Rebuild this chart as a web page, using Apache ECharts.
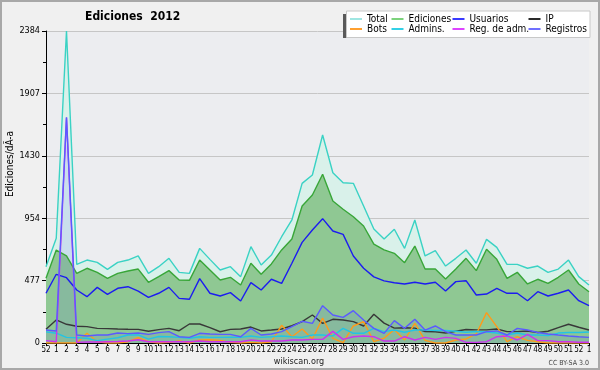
<!DOCTYPE html>
<html><head><meta charset="utf-8">
<script src="https://cdn.jsdelivr.net/npm/echarts@6/dist/echarts.min.js"></script>
<style>html,body{margin:0;padding:0;background:#f0f0f0}#c{width:600px;height:370px}</style>
</head><body><div id="c"></div>
<script>
const categories = ['52','1','2','3','4','5','6','7','8','9','10','11','12','13','14','15','16','17','18','19','20','21','22','23','24','25','26','27','28','29','30','31','32','33','34','35','36','37','38','39','40','41','42','43','44','45','46','47','48','49','50','51','52','1'];
const yTicks = [0, 477, 954, 1430, 1907, 2384];
const total = [583,800,2384,601,634,616,563,616,634,665,532,583,647,540,532,723,639,558,583,507,736,596,672,812,940,1220,1284,1589,1301,1225,1220,1047,871,795,869,723,940,665,705,588,647,711,609,792,731,601,601,571,588,540,565,634,507,443];
const ediciones = [494,710,665,532,571,540,494,532,550,565,464,507,553,481,479,634,558,481,502,443,609,525,604,711,795,1047,1131,1289,1085,1022,965,894,756,711,685,614,741,565,565,489,565,647,553,716,639,494,540,451,487,456,502,558,451,392];
const usuarios = [380,525,499,405,354,425,372,418,430,397,349,380,425,341,334,492,380,359,385,321,461,405,487,456,609,769,863,950,856,830,665,571,505,475,460,451,464,451,464,397,469,476,367,374,418,380,380,323,392,359,380,405,323,285];
const ip = [105,176,143,128,125,112,110,107,105,104,90,102,112,94,145,145,117,86,104,107,122,92,99,107,132,163,214,150,181,176,163,130,220,152,114,116,114,88,86,76,90,103,100,100,107,87,87,92,80,90,117,143,120,99];
const bots = [0,0,0,0,75,10,0,0,10,40,10,0,5,15,0,23,25,20,5,0,5,0,10,135,48,107,31,190,36,3,130,163,10,36,104,23,150,20,0,0,23,31,69,232,125,10,48,20,10,0,0,0,0,0];
const admins = [85,75,43,40,36,18,30,40,61,62,30,50,48,43,36,48,43,43,45,43,54,43,48,54,48,43,61,61,54,112,74,74,112,87,99,82,99,100,95,96,90,82,88,84,76,61,76,61,61,56,76,80,80,84];
const regAdm = [18,10,1720,5,8,8,10,12,15,25,10,10,10,10,10,15,10,10,10,10,23,15,15,15,23,23,28,28,89,28,48,54,48,15,15,48,23,43,28,43,35,5,5,10,48,54,23,66,18,18,10,10,6,6];
const registros = [99,92,1724,61,53,61,61,76,72,76,66,79,87,48,43,74,69,66,66,48,112,61,69,87,125,166,150,285,214,196,247,176,112,74,171,112,181,99,130,87,61,61,61,87,92,61,112,99,80,69,61,54,48,43];

const FF = "'DejaVu Sans Condensed', 'DejaVu Sans', sans-serif";
const names = ['Total','Ediciones','Usuarios','IP','Bots','Admins.','Reg. de adm.','Registros'];
const colors = ['#3ad2c4','#38a638','#1c1cf0','#383838','#ff9a1a','#22c4e4','#cc33ee','#5a5aff'];
const legendColors = ['#9fe6e2','#7cd27c','#3a3aff','#2a2a2a','#ffa030','#33d0e6','#dd44ff','#7070ff'];
const legendX = [350, 391.5, 452.5, 528.5];
const legendY = [14, 24];

const chart = echarts.init(document.getElementById('c'), null, {renderer:'canvas'});

function line(name, data, color, extra) {
  return Object.assign({
    name, type:'line', data, showSymbol:false, symbol:'none', silent:true,
    lineStyle:{color, width:1.4}, itemStyle:{color}, animation:false
  }, extra || {});
}

const legends = names.map((n, k) => ({
  data:[{name:n, itemStyle:{color:legendColors[k], borderWidth:0}}],
  left: legendX[k % 4], top: legendY[Math.floor(k / 4)], z:200, zlevel:0,
  orient:'horizontal', icon:'rect', itemWidth:12, itemHeight:2, itemGap:0, padding:0,
  selectedMode:false,
  itemStyle:{borderWidth:0}, lineStyle:{width:0},
  textStyle:{fontSize:10, lineHeight:10, color:'#000', fontFamily:FF, padding:[0,0,0,0]}
}));

chart.setOption({
  animation:false,
  backgroundColor:'#f0f0f0',
  title:{text:'Ediciones  2012', left:85, top:11, padding:0,
    textStyle:{fontSize:12, fontWeight:'bold', color:'#000', fontFamily:FF}},
  legend: legends,
  grid:{left:46, right:11, top:31, bottom:27, show:true, backgroundColor:'#ecedf0', borderWidth:0},
  xAxis:{type:'category', data:categories, boundaryGap:false,
    axisLine:{lineStyle:{color:'#000', width:1}},
    axisTick:{show:true, interval:0, length:3, lineStyle:{color:'#000'}},
    axisLabel:{interval:0, fontSize:8, margin:3, color:'#000', fontFamily:FF, hideOverlap:false},
    splitLine:{show:false}},
  yAxis:{type:'value', min:0, max:yTicks[yTicks.length-1], interval:476.8,
    axisLine:{show:true, lineStyle:{color:'#000'}},
    axisTick:{show:true, length:4, lineStyle:{color:'#000'}},
    minorTick:{show:true, splitNumber:2, length:3, lineStyle:{color:'#000'}},
    minorSplitLine:{show:false},
    splitLine:{show:true, lineStyle:{color:'#c6c6c6', width:1}},
    axisLabel:{fontSize:9, margin:6, color:'#000', fontFamily:FF,
      formatter: v => String(yTicks[Math.round(v / 476.8)])}},
  graphic:[
    {type:'rect', z:-10, silent:true, shape:{x:1, y:1, width:598, height:368}, style:{fill:null, stroke:'#a8a8a8', lineWidth:2}},
    {type:'rect', z:50, silent:true, shape:{x:343, y:14, width:243, height:24}, style:{fill:'#5a5a5a'}},
    {type:'rect', z:51, silent:true, shape:{x:346.5, y:11, width:243.5, height:26.5}, style:{fill:'#ffffff', stroke:'#c8c8c8', lineWidth:1}},
    {type:'text', silent:true, x:10, y:164, rotation:Math.PI/2,
      style:{text:'Ediciones/dÃ-a', fontSize:10, fontFamily:FF, fill:'#000', align:'center', verticalAlign:'middle'}},
    {type:'text', silent:true, x:299, y:362,
      style:{text:'wikiscan.org', fontSize:9, fontFamily:FF, fill:'#222', align:'center', verticalAlign:'middle'}},
    {type:'text', silent:true, x:589, y:363,
      style:{text:'CC BY-SA 3.0', fontSize:7, fontFamily:FF, fill:'#444', align:'right', verticalAlign:'middle'}}
  ],
  series:[
    line('Total', total, colors[0], {areaStyle:{color:'#d9f1ea', opacity:1}}),
    line('Ediciones', ediciones, colors[1], {areaStyle:{color:'#8fc893', opacity:1}}),
    line('Usuarios', usuarios, colors[2]),
    line('IP', ip, colors[3]),
    line('Bots', bots, colors[4]),
    line('Admins.', admins, colors[5]),
    line('Reg. de adm.', regAdm, colors[6]),
    line('Registros', registros, colors[7], {areaStyle:{color:'rgba(80,80,255,0.15)'}})
  ]
});
</script></body></html>
